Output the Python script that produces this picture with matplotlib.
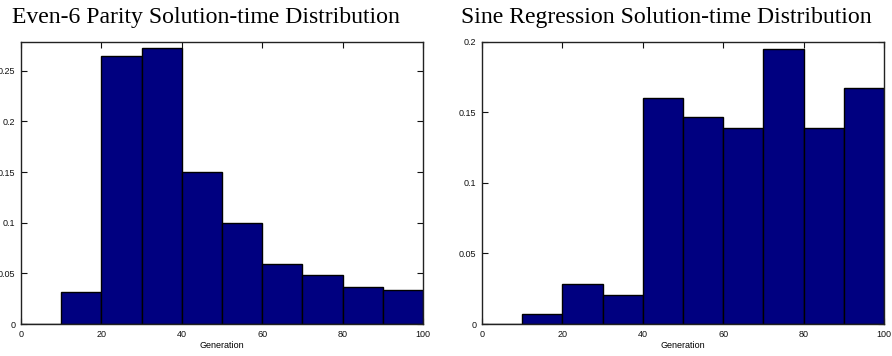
import numpy as np
import matplotlib
matplotlib.use('Agg')
import matplotlib.pyplot as plt

# histogram bins (generation) and normalised frequencies
bin_left = [0, 10, 20, 30, 40, 50, 60, 70, 80, 90]
parity_freq = [0.0, 0.0313, 0.265, 0.273, 0.1505, 0.0995, 0.0596, 0.048, 0.0369, 0.0339]
sine_freq = [0.0, 0.0069, 0.0281, 0.0208, 0.1603, 0.1462, 0.139, 0.1948, 0.139, 0.167]

parity_yticks = [0, 0.05, 0.1, 0.15, 0.2, 0.25]
sine_yticks = [0, 0.05, 0.1, 0.15, 0.2]
xticks = [0, 20, 40, 60, 80, 100]

titles = ['Even-6 Parity Solution-time Distribution',
          'Sine Regression Solution-time Distribution']

W, H = 892, 356
fig = plt.figure(figsize=(W / 100, H / 100), dpi=100)

ax1 = fig.add_axes([21 / W, 32 / H, 402 / W, 282.5 / H])
ax2 = fig.add_axes([482 / W, 32 / H, 402 / W, 282.5 / H])

setups = [(ax1, parity_freq, parity_yticks, 0.279, 11.5),
          (ax2, sine_freq, sine_yticks, 0.2, 461)]

for i, (ax, freq, yt, ytop, tx) in enumerate(setups):
    ax.bar(bin_left, freq, width=10, align='edge', color='#000080',
           edgecolor='black', linewidth=1.0, zorder=2)
    ax.set_xlim(0, 100)
    ax.set_ylim(0, ytop)
    ax.set_xticks(xticks)
    ax.set_xticklabels([str(x) for x in xticks])
    ax.set_yticks(yt)
    ax.set_yticklabels(['0' if v == 0 else ('%g' % v) for v in yt])
    ax.tick_params(direction='in', length=4, width=0.8, top=True, right=True,
                   labelsize=6.5, pad=4, colors='#111111')
    for s in ax.spines.values():
        s.set_linewidth(1.0)
        s.set_color('#222222')
        s.set_zorder(3)
    ax.set_xlabel('Generation', fontsize=6.5, family='Liberation Sans', labelpad=2)
    for lab in ax.get_xticklabels() + ax.get_yticklabels():
        lab.set_family('Liberation Sans')
    fig.text(tx / W, 1 - 22.5 / H, titles[i], family='Liberation Serif',
             fontsize=17.1, ha='left', va='baseline')

fig.savefig('out.png', dpi=100)
